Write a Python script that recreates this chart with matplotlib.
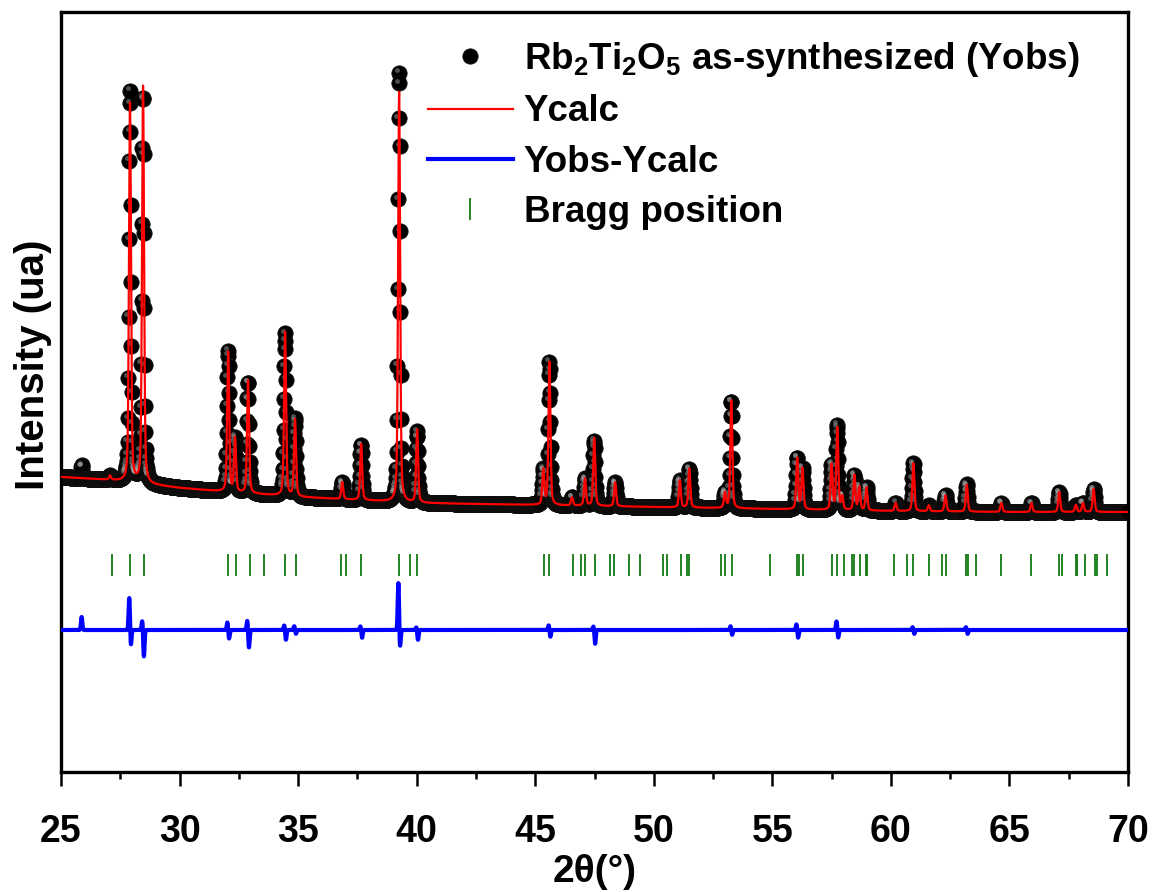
import numpy as np
import matplotlib
matplotlib.use("Agg")
import matplotlib.pyplot as plt
from matplotlib.ticker import MultipleLocator
import matplotlib.transforms as mtransforms

plt.rcParams["font.family"] = ["Liberation Sans", "DejaVu Sans"]
plt.rcParams["font.weight"] = "bold"
plt.rcParams["mathtext.fontset"] = "custom"
plt.rcParams["mathtext.rm"] = "Liberation Sans:bold"
plt.rcParams["mathtext.bf"] = "Liberation Sans:bold"
plt.rcParams["mathtext.default"] = "rm"

# background (a.u.) read at a few angles
bg_x = [25, 27, 30, 32, 35, 40, 45, 50, 55, 60, 65, 70]
bg_y = [295, 292, 284, 280, 275, 269, 267, 265, 263, 261, 260, 260]

# calculated peaks: position (deg) and height above background (a.u.)
peak_pos = [27.07, 27.91, 28.46, 32.05, 32.34, 32.89, 34.45, 34.87, 36.86, 37.66,
            39.26, 40.02, 45.34, 45.60, 46.55, 47.10, 47.49, 48.37, 51.10, 51.50,
            53.00, 53.27, 56.05, 56.27, 57.50, 57.74, 57.95, 58.46, 58.67, 58.97,
            60.20, 60.95, 61.60, 62.30, 63.20, 64.66, 65.93, 67.10, 67.80, 68.10, 68.55]
peak_h = [4, 379, 397, 140, 54, 113, 164, 77, 17, 56,
          410, 73, 35, 143, 8, 27, 68, 24, 27, 39,
          15, 108, 51, 41, 45, 82, 13, 35, 23, 23,
          8, 48, 6, 16, 27, 9, 9, 20, 7, 9, 23]

# Yobs-Ycalc features: position, positive lobe, negative lobe (a.u.)
diff_pos = [25.90, 27.91, 28.46, 32.05, 32.89, 34.45, 34.87, 37.66, 39.26, 40.02,
            45.60, 47.49, 53.27, 56.05, 57.74, 60.95, 63.20]
diff_up = [13, 33, 10, 8, 10, 5, 4, 4, 48, 3, 5, 4, 4, 6, 9, 3, 3]
diff_dn = [0, 16, 27, 9, 18, 10, 4, 8, 18, 10, 7, 14, 5, 8, 8, 4, 4]
diff_offset = 142

# Bragg reflections
bragg = [27.15, 27.92, 28.48, 32.03, 32.40, 32.95, 33.57, 34.43, 34.90, 36.80,
         37.02, 37.66, 39.27, 39.73, 40.03, 45.35, 45.57, 46.60, 46.94, 47.12,
         47.51, 48.16, 48.34, 48.97, 49.41, 50.40, 50.54, 51.14, 51.40, 51.50,
         52.84, 52.99, 53.29, 54.90, 56.02, 56.14, 56.29, 57.51, 57.73, 58.03,
         58.36, 58.45, 58.70, 58.93, 59.00, 60.15, 60.68, 60.94, 61.61, 62.17,
         62.32, 63.17, 63.25, 63.59, 64.66, 65.93, 67.10, 67.20, 67.80, 67.87,
         68.17, 68.59, 68.69, 69.11]
bragg_y = 207


def pvoigt(x, pos, h, fwhm=0.1, eta=0.4):
    hw = fwhm / 2
    lor = 1 / (1 + ((x - pos) / hw) ** 2)
    gau = np.exp(-np.log(2) * ((x - pos) / hw) ** 2)
    return h * (eta * lor + (1 - eta) * gau)


def calc_profile(x):
    y = np.interp(x, bg_x, bg_y)
    for p, h in zip(peak_pos, peak_h):
        y = y + pvoigt(x, p, h)
    return y


def diff_profile(x):
    d = np.zeros_like(x)
    for p, u, n in zip(diff_pos, diff_up, diff_dn):
        d += u * np.exp(-0.5 * ((x - (p - 0.03)) / 0.028) ** 2)
        d -= n * np.exp(-0.5 * ((x - (p + 0.035)) / 0.028) ** 2)
    return d


xf = np.arange(25, 70.0001, 0.004)
xo = np.arange(25, 70.0001, 0.015)
ycalc = calc_profile(xf)
yobs = calc_profile(xo) + diff_profile(xo)
ydiff = diff_offset + diff_profile(xf)

fig = plt.figure(figsize=(11.54, 8.92), dpi=100)
ax = fig.add_axes([61 / 1154, 1 - 772 / 892, (1128 - 61) / 1154, (772 - 12) / 892])

ax.plot(xo, yobs, "o", ms=11, color="black", mec="#101010", mew=0.6, zorder=2,
        label="Rb$_2$Ti$_2$O$_5$ as-synthesized (Yobs)")
# small glossy highlight on the spheres that stand out of the baseline band
lift = yobs - np.interp(xo, bg_x, bg_y) > 8
hl = mtransforms.offset_copy(ax.transData, fig=fig, x=-1.5, y=1.8, units="points")
ax.plot(xo[lift], yobs[lift], "o", ms=3.5, color="#b0b0b0", mew=0, alpha=0.45,
        transform=hl, zorder=2.1)
ax.plot(xf, ycalc, color="#ff0000", lw=1.6, zorder=3, label="Ycalc")
ax.plot(xf, ydiff, color="#0000ff", lw=3.0, zorder=3, label="Yobs-Ycalc")
ax.plot(bragg, [bragg_y] * len(bragg), "|", ms=16.5, mew=1.3, color="#117a11",
        zorder=3, label="Bragg position")

ax.set_xlim(25, 70)
ax.set_ylim(0, 760)
ax.set_yticks([])
ax.xaxis.set_major_locator(MultipleLocator(5))
ax.xaxis.set_minor_locator(MultipleLocator(2.5))
ax.tick_params(axis="x", which="major", length=10, width=1.8, pad=20, labelsize=27)
ax.tick_params(axis="x", which="minor", length=5, width=1.8)
for s in ax.spines.values():
    s.set_linewidth(2.4)

ax.set_xlabel("2θ(°)", fontsize=28, fontweight="bold", labelpad=3)
ax.set_ylabel("Intensity (ua)", fontsize=29, fontweight="bold")
ax.yaxis.set_label_coords(-0.008, (772 - 365) / 760)

leg = ax.legend(loc="upper left", bbox_to_anchor=((428 - 61) / 1067, (772 - 40) / 760),
                frameon=False, fontsize=26.5, handlelength=2.3, handletextpad=0.3,
                labelspacing=0.42, borderpad=0, borderaxespad=0, numpoints=1)

fig.savefig("out.png", dpi=100, facecolor="white")
